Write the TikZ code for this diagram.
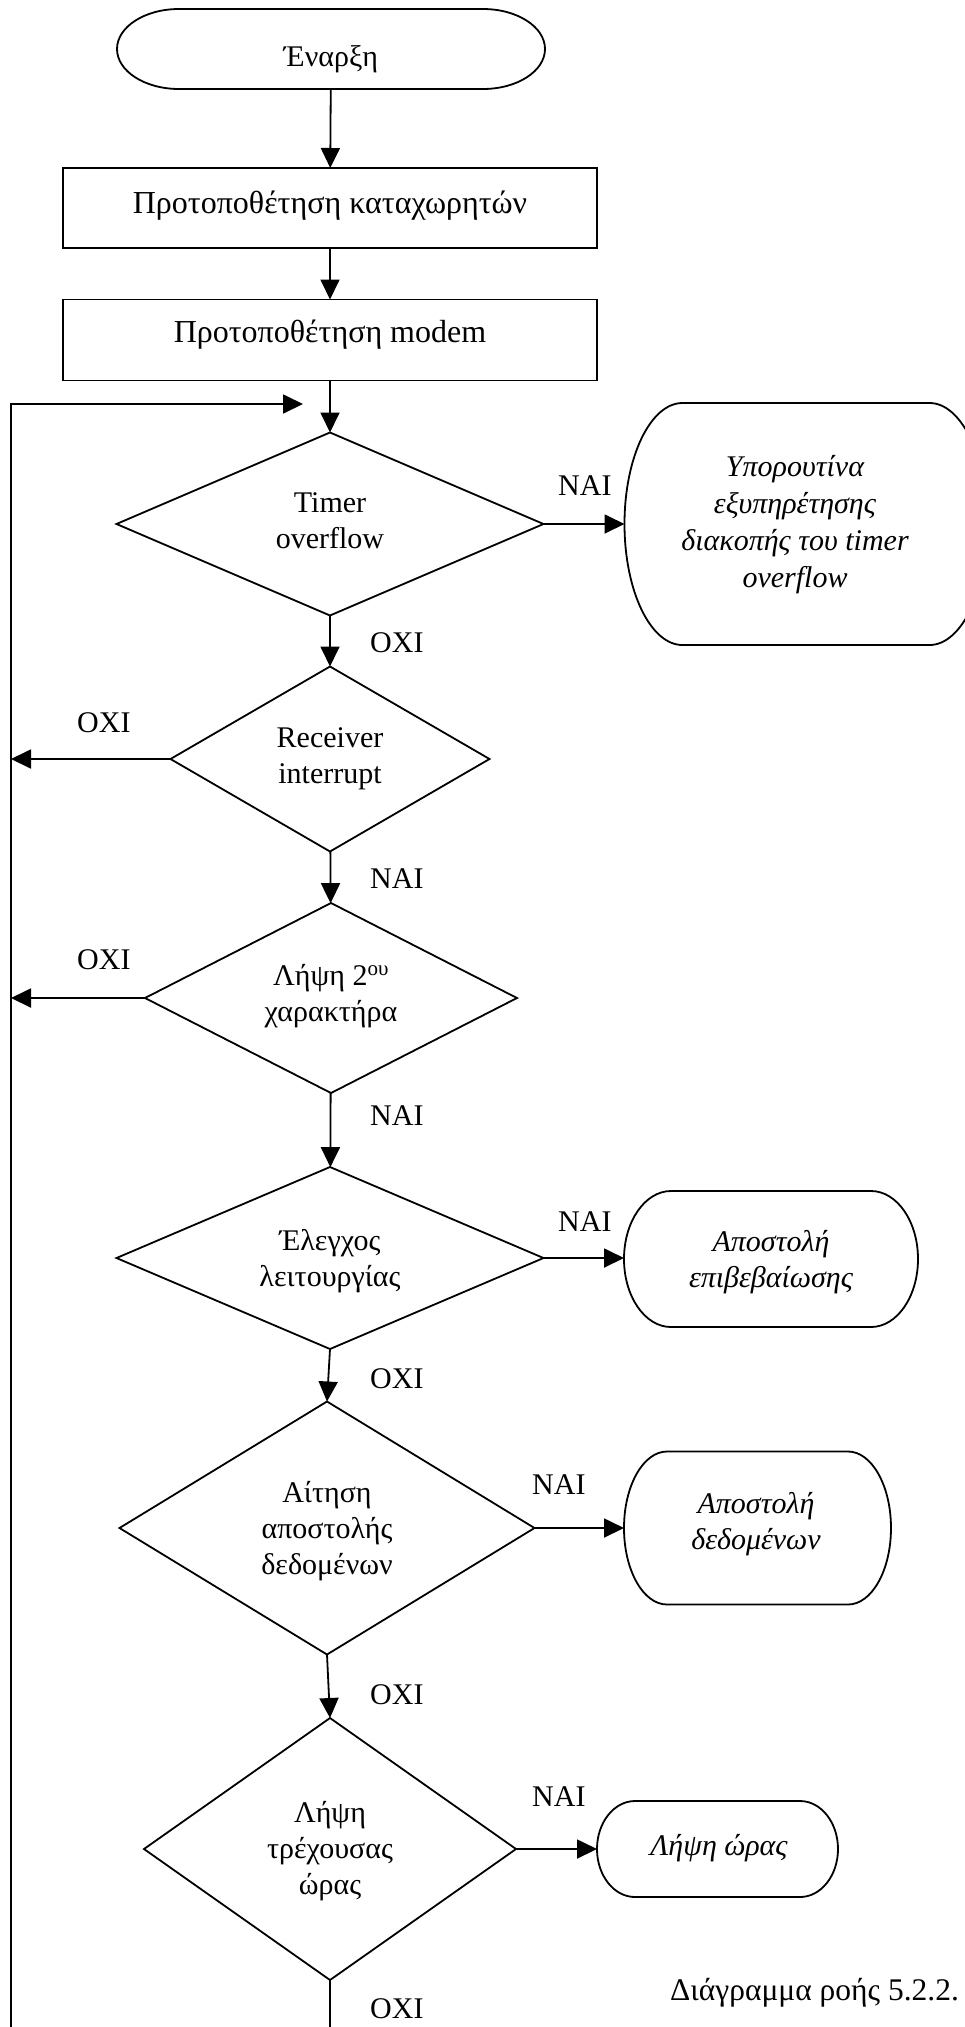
\documentclass[tikz,border=0pt]{standalone}
\usepackage{fontspec}
\setmainfont{Liberation Serif}
\usetikzlibrary{shapes.geometric,arrows.meta,calc}
\tikzset{
  ln/.style={line width=1.8pt},
  arr/.style={ln,-{Triangle[length=20pt,width=19pt]}},
  shp/.style={ln,inner sep=0pt,outer sep=0pt},
  boxnode/.style={shp,rectangle,draw},
  dia/.style={shp,diamond,draw},
  term/.style={shp,rectangle,draw=none},
  txt/.style={inner sep=0pt,anchor=base,font=\fontsize{30pt}{36pt}\selectfont},
  btx/.style={txt,font=\fontsize{32pt}{38pt}\selectfont},
  itx/.style={txt,font=\fontsize{30pt}{36pt}\selectfont\itshape},
  lab/.style={txt,anchor=base west},
}
\newcommand\termpath[3]{%
  \draw[ln] ([xshift=#2]#1.north west) -- ([xshift=-#2]#1.north east)
    arc[start angle=90,end angle=-90,x radius=#2,y radius=#3]
    -- ([xshift=#2]#1.south west)
    arc[start angle=270,end angle=90,x radius=#2,y radius=#3] -- cycle;}
\begin{document}
\begin{tikzpicture}[x=1pt,y=-1pt]
\useasboundingbox (0,0) rectangle (964,2027);

% start
\node[term,minimum width=428pt,minimum height=80pt] (start) at (331,49) {};
\termpath{start}{62pt}{40pt}
\node[txt] (startT) at (331,66) {Έναρξη};

% boxes
\node[boxnode,minimum width=534pt,minimum height=80pt] (b1) at (330,208) {};
\node[btx] (b1T) at (330,213) {Προτοποθέτηση καταχωρητών};
\node[boxnode,minimum width=534pt,minimum height=81pt] (b2) at (330,340) {};
\node[btx] (b2T) at (330,342) {Προτοποθέτηση modem};

% diamonds
\node[dia,minimum width=427pt,minimum height=183pt] (d1) at (330,524) {};
\node[txt] (d1a) at (330,512) {Timer};
\node[txt] (d1b) at (330,548) {overflow};

\node[dia,minimum width=319pt,minimum height=185pt] (d2) at (330,759) {};
\node[txt] (d2a) at (330,747) {Receiver};
\node[txt] (d2b) at (330,783) {interrupt};

\node[dia,minimum width=372pt,minimum height=190pt] (d3) at (331,998) {};
\node[txt] (d3a) at (331,985) {Λήψη 2\textsuperscript{ου}};
\node[txt] (d3b) at (331,1021) {χαρακτήρα};

\node[dia,minimum width=427pt,minimum height=182pt] (d4) at (330,1258) {};
\node[txt] (d4a) at (330,1250) {Έλεγχος};
\node[txt] (d4b) at (330,1286) {λειτουργίας};

\node[dia,minimum width=415pt,minimum height=253pt] (d5) at (327,1528) {};
\node[txt] (d5a) at (327,1502) {Αίτηση};
\node[txt] (d5b) at (327,1538) {αποστολής};
\node[txt] (d5c) at (327,1574) {δεδομένων};

\node[dia,minimum width=372pt,minimum height=262pt] (d6) at (330,1849) {};
\node[txt] (d6a) at (330,1822) {Λήψη};
\node[txt] (d6b) at (330,1858) {τρέχουσας};
\node[txt] (d6c) at (330,1894) {ώρας};

% terminals on the right
\node[term,minimum width=363pt,minimum height=242pt] (sub) at (806,524) {};
\termpath{sub}{58pt}{121pt}
\node[itx] (subA) at (795,476) {Υπορουτίνα};
\node[itx] (subB) at (795,513) {εξυπηρέτησης};
\node[itx] (subC) at (795,550) {διακοπής του timer};
\node[itx] (subD) at (795,587) {overflow};

\node[term,minimum width=294pt,minimum height=136pt] (t2) at (771,1259) {};
\termpath{t2}{47pt}{68pt}
\node[itx] (t2a) at (771,1251) {Αποστολή};
\node[itx] (t2b) at (771,1287) {επιβεβαίωσης};

\node[term,minimum width=267pt,minimum height=153pt] (t3) at (757.5,1528) {};
\termpath{t3}{43pt}{76.5pt}
\node[itx] (t3a) at (756,1513) {Αποστολή};
\node[itx] (t3b) at (756,1549) {δεδομένων};

\node[term,minimum width=241pt,minimum height=96pt] (t4) at (717.5,1849) {};
\termpath{t4}{38pt}{48pt}
\node[itx] (t4a) at (719,1855) {Λήψη ώρας};

% main flow
\draw[arr] (start) -- (b1);
\draw[arr] (b1) -- (b2);
\draw[arr] (b2) -- (d1);
\draw[arr] (d1) -- (d2);
\draw[arr] (d2) -- (d3);
\draw[arr] (d3) -- (d4);
\draw[arr] (d4.south) -- (d5.north);
\draw[arr] (d5.south) -- (d6.north);
\coordinate (Dend) at (330,2027);
\draw[ln] (d6.south) -- (Dend);

% yes branches
\draw[arr] (d1.east) -- (d1.east -| sub.west);
\draw[arr] (d4.east) -- (d4.east -| t2.west);
\draw[arr] (d5.east) -- (d5.east -| t3.west);
\draw[arr] (d6.east) -- (d6.east -| t4.west);

% loop back
\coordinate (Lt) at (11,404);
\coordinate (Lb) at (11,2027);
\coordinate (Lend) at (303,404);
\draw[arr] (Lb) -- (Lt) -- (Lend);
\draw[arr] (d2.west) -- (d2.west -| Lt);
\draw[arr] (d3.west) -- (d3.west -| Lt);

% labels
\node[lab] (l1) at (370,652) {ΟΧΙ};
\node[lab] (l2) at (370,888) {ΝΑΙ};
\node[lab] (l3) at (370,1125) {ΝΑΙ};
\node[lab] (l4) at (370,1388) {ΟΧΙ};
\node[lab] (l5) at (370,1704) {ΟΧΙ};
\node[lab] (l6) at (370,2018) {ΟΧΙ};
\node[lab] (l7) at (77,732) {ΟΧΙ};
\node[lab] (l8) at (77,969) {ΟΧΙ};
\node[lab] (l9) at (558,495) {ΝΑΙ};
\node[lab] (l10) at (558,1231) {ΝΑΙ};
\node[lab] (l11) at (532,1494) {ΝΑΙ};
\node[lab] (l12) at (532,1806) {ΝΑΙ};

% caption
\node[txt,anchor=base west,font=\fontsize{31.5pt}{38pt}\selectfont] (cap) at (670,2000) {Διάγραμμα ροής 5.2.2.};
\end{tikzpicture}
\end{document}
